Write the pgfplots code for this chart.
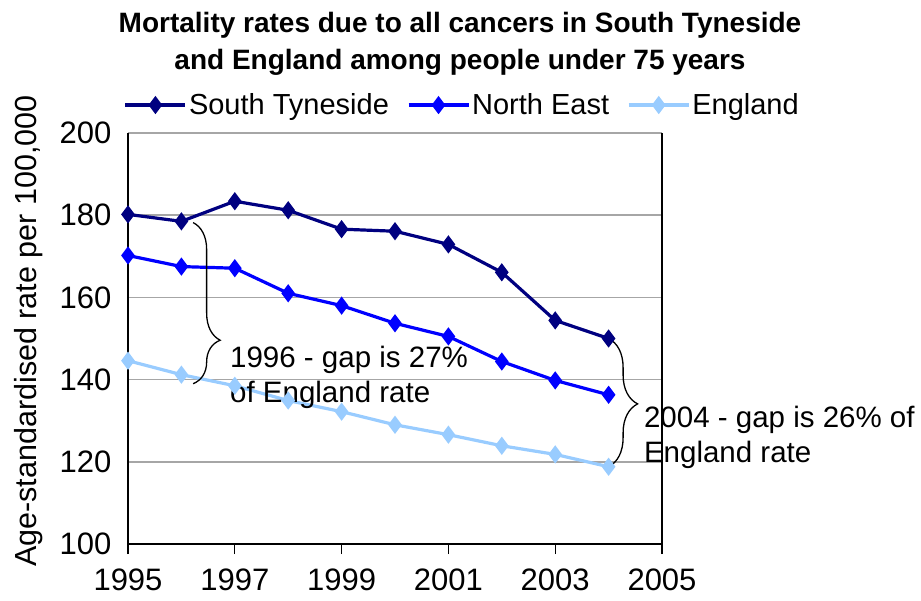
\documentclass[border=0pt]{standalone}
\usepackage{fontspec}
\setmainfont{Liberation Sans}
\usepackage{pgfplots}
\pgfplotsset{compat=1.18}
\usetikzlibrary{decorations.pathreplacing}
\definecolor{stc}{HTML}{000080}
\definecolor{nec}{HTML}{0000FF}
\definecolor{enc}{HTML}{99CCFF}
\begin{document}
\begin{tikzpicture}[x=1pt,y=1pt]
\begin{axis}[
  at={(128pt,56pt)}, anchor=south west,
  width=534pt, height=411pt, scale only axis,
  xmin=1995, xmax=2005, ymin=100, ymax=200,
  xtick={1995,1997,...,2005}, ytick={100,120,...,200},
  /pgf/number format/1000 sep={},
  /pgf/number format/assume math mode=true,
  axis x line*=bottom, axis y line*=left,
  ymajorgrids, grid style={draw=gray!70, line width=1.5pt},
  axis line style={line width=1.3pt,-},
  ytick style={draw=none},
  xtick align=outside, major tick length=10pt,
  xtick style={line width=1.3pt,black},
  tick label style={font=\fontsize{31}{32}\selectfont},
  yticklabel style={xshift=-13pt},
  xticklabel style={yshift=-11pt},
  ylabel={Age-standardised rate per 100,000},
  ylabel style={font=\fontsize{30.5}{31}\selectfont, at={(axis description cs:-0.187,0.518)}, anchor=center},
  clip=false,
  legend columns=3,
  legend style={at={(axis description cs:0.626,1.068)}, anchor=center, draw=none, fill=none,
    font=\fontsize{29}{30}\selectfont,
    /tikz/every even column/.append style={column sep=16pt}},
  legend image code/.code={\draw[mark repeat=2,mark phase=2,#1] plot coordinates {(0pt,0pt) (30pt,0pt) (60pt,0pt)};},
  every axis plot/.append style={line width=3.2pt, mark=diamond*, mark size=6.5pt, mark options={solid}},
]
\addplot[color=stc] coordinates {(1995,180.2) (1996,178.5) (1997,183.4) (1998,181.2) (1999,176.6) (2000,176.1) (2001,172.9) (2002,166.1) (2003,154.4) (2004,150.0)};
\addlegendentry{South Tyneside}
\addplot[color=nec] coordinates {(1995,170.2) (1996,167.5) (1997,167.1) (1998,161.0) (1999,158.0) (2000,153.7) (2001,150.5) (2002,144.4) (2003,139.8) (2004,136.3)};
\addlegendentry{North East}
\addplot[color=enc] coordinates {(1995,144.6) (1996,141.2) (1997,138.5) (1998,134.9) (1999,132.2) (2000,129.0) (2001,126.6) (2002,123.9) (2003,121.8) (2004,118.8)};
\addlegendentry{England}
\draw[line width=1.3pt] (rel axis cs:1,0) -- (rel axis cs:1,1);
\draw[decorate, decoration={brace, amplitude=27pt, aspect=0.73}, line width=1.3pt] (axis cs:1996.22,178.2) -- (axis cs:1996.22,139.0);
\draw[decorate, decoration={brace, amplitude=29pt, aspect=0.51}, line width=1.3pt] (axis cs:2004,150.0) -- (axis cs:2004,118.8);
\node[anchor=north west, align=left, inner sep=0pt, font=\fontsize{29.5}{35}\selectfont] at (axis cs:1996.91,148.3) {1996 - gap is 27\%\\of England rate};
\node[anchor=north west, align=left, inner sep=0pt, font=\fontsize{29.5}{35}\selectfont] at (axis cs:2004.66,133.7) {2004 - gap is 26\% of\\England rate};
\end{axis}
\node[align=center, font=\bfseries\fontsize{28}{37}\selectfont] at (460pt,556pt) {Mortality rates due to all cancers in South Tyneside\\and England among people under 75 years};
\pgfresetboundingbox
\path (0,0) rectangle (921,600);
\end{tikzpicture}
\end{document}
